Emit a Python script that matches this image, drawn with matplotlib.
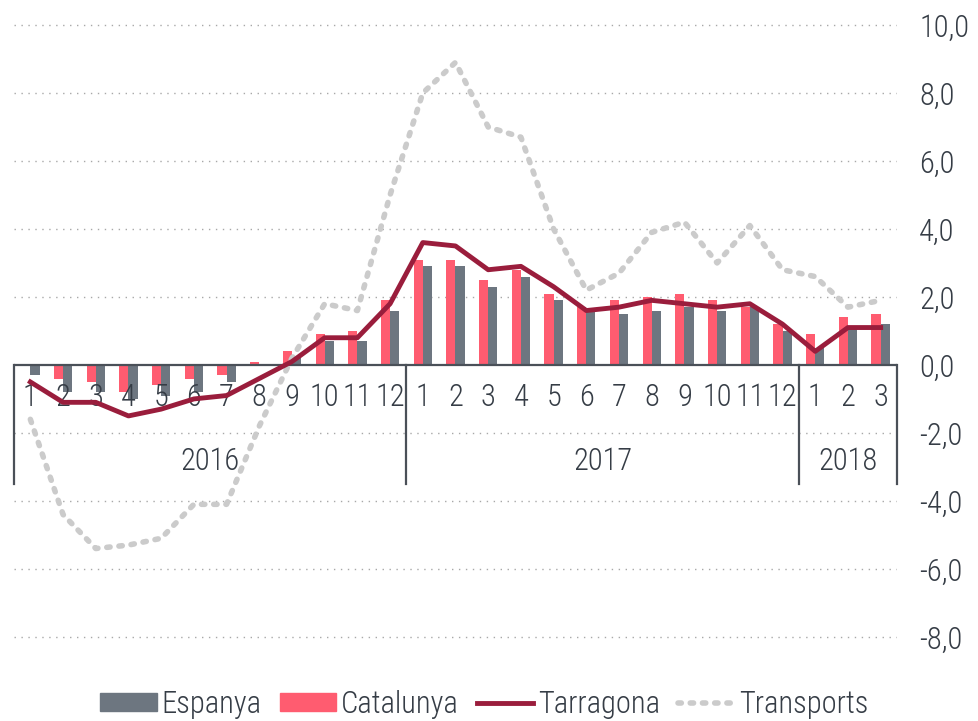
import matplotlib
matplotlib.use("Agg")
import matplotlib.pyplot as plt
import matplotlib.patches as mpatches
from matplotlib.lines import Line2D
import numpy as np

# ──────────────────────────────────────────────
# DADES
# ──────────────────────────────────────────────
YEARS       = ["2016", "2017", "2018"]
MONTHS_PER  = [12, 12, 3]
MONTH_LBL   = [str(m) for m in range(1, 13)] * 2 + ["1", "2", "3"]

ESPANYA   = [-0.3, -0.8, -0.8, -1.0, -0.9, -0.8, -0.5, 0.0, 0.2, 0.7, 0.7, 1.6,
             2.9, 2.9, 2.3, 2.6, 1.9, 1.6, 1.5, 1.6, 1.7, 1.6, 1.7, 1.0,
             0.5, 1.1, 1.2]
CATALUNYA = [0.0, -0.4, -0.5, -0.8, -0.6, -0.4, -0.3, 0.1, 0.4, 0.9, 1.0, 1.9,
             3.1, 3.1, 2.5, 2.8, 2.1, 1.7, 1.9, 2.0, 2.1, 1.9, 1.7, 1.2,
             0.9, 1.4, 1.5]
TARRAGONA = [-0.5, -1.1, -1.1, -1.5, -1.3, -1.0, -0.9, -0.4, 0.1, 0.8, 0.8, 1.8,
             3.6, 3.5, 2.8, 2.9, 2.3, 1.6, 1.7, 1.9, 1.8, 1.7, 1.8, 1.2,
             0.4, 1.1, 1.1]
TRANSPORTS = [-1.6, -4.4, -5.4, -5.3, -5.1, -4.1, -4.1, -1.8, 0.2, 1.8, 1.6, 5.0,
              8.0, 8.9, 7.0, 6.7, 4.0, 2.2, 2.7, 3.9, 4.2, 3.0, 4.1, 2.8,
              2.6, 1.7, 1.9]

Y_TICKS = [-8, -6, -4, -2, 0, 2, 4, 6, 8, 10]

# colors
C_ESP   = "#6d7680"
C_CAT   = "#ff5c70"
C_TAR   = "#9a1d3c"
C_TRA   = "#cbcbcb"
C_TEXT  = "#363d46"

plt.rcParams["font.family"] = ["Roboto Condensed", "DejaVu Sans"]
plt.rcParams["font.weight"] = 300
FS = 22

# ──────────────────────────────────────────────
# FIGURA
# ──────────────────────────────────────────────
fig = plt.figure(figsize=(9.79, 7.21), dpi=100)
ax = fig.add_axes([14 / 979, 61 / 721, 883 / 979, 652 / 721])

n = len(ESPANYA)
x = np.arange(n)
w = 0.28

# gridlines
for t in Y_TICKS:
    if t == 0:
        continue
    ax.axhline(t, color="#a8a8a8", linestyle=(0, (1, 4)), linewidth=1.0, zorder=0)

ax.bar(x - w / 2, CATALUNYA, width=w, color=C_CAT, zorder=2)
ax.bar(x + w / 2, ESPANYA, width=w, color=C_ESP, zorder=2)

ax.axhline(0, color="#4a5058", linewidth=1.6, zorder=3)

# category axis (months + years)
bounds = np.cumsum([0] + MONTHS_PER) - 0.5
for b in bounds:
    ax.plot([b, b], [0, -3.5], color="#4a5058", linewidth=1.6, zorder=3,
            clip_on=False)
for i, lbl in enumerate(MONTH_LBL):
    ax.text(i, -0.97, lbl, ha="center", va="center", fontsize=FS,
            color=C_TEXT, zorder=3)
for k, yr in enumerate(YEARS):
    ax.text((bounds[k] + bounds[k + 1]) / 2, -2.85, yr, ha="center",
            va="center", fontsize=FS, color=C_TEXT, zorder=3)

ax.plot(x, TRANSPORTS, color=C_TRA, linewidth=4, linestyle=(0, (0.6, 1.6)),
        dash_capstyle="round", zorder=4)
ax.plot(x, TARRAGONA, color=C_TAR, linewidth=3.5, solid_joinstyle="round",
        zorder=5)

ax.set_xlim(-0.5, n - 0.5)
ax.set_ylim(-8.68, 10.5)
ax.yaxis.tick_right()
ax.set_yticks(Y_TICKS)
ax.set_yticklabels([f"{t},0" for t in Y_TICKS], fontsize=FS, color=C_TEXT,
                   ha="left")
ax.tick_params(axis="y", length=0, pad=16)
ax.set_xticks([])
for s in ax.spines.values():
    s.set_visible(False)

handles = [
    mpatches.Patch(color=C_ESP, label="Espanya"),
    mpatches.Patch(color=C_CAT, label="Catalunya"),
    Line2D([], [], color=C_TAR, linewidth=3.5, label="Tarragona"),
    Line2D([], [], color=C_TRA, linewidth=4, linestyle=(0, (0.6, 1.6)),
           dash_capstyle="round", label="Transports"),
]
leg = fig.legend(handles=handles, loc="lower center", ncol=4, frameon=False,
                 fontsize=FS, bbox_to_anchor=(0.495, -0.035),
                 handlelength=1.85, handleheight=0.55, handletextpad=0.15,
                 columnspacing=0.6)
for t in leg.get_texts():
    t.set_color(C_TEXT)

fig.savefig("out.png", dpi=100)
